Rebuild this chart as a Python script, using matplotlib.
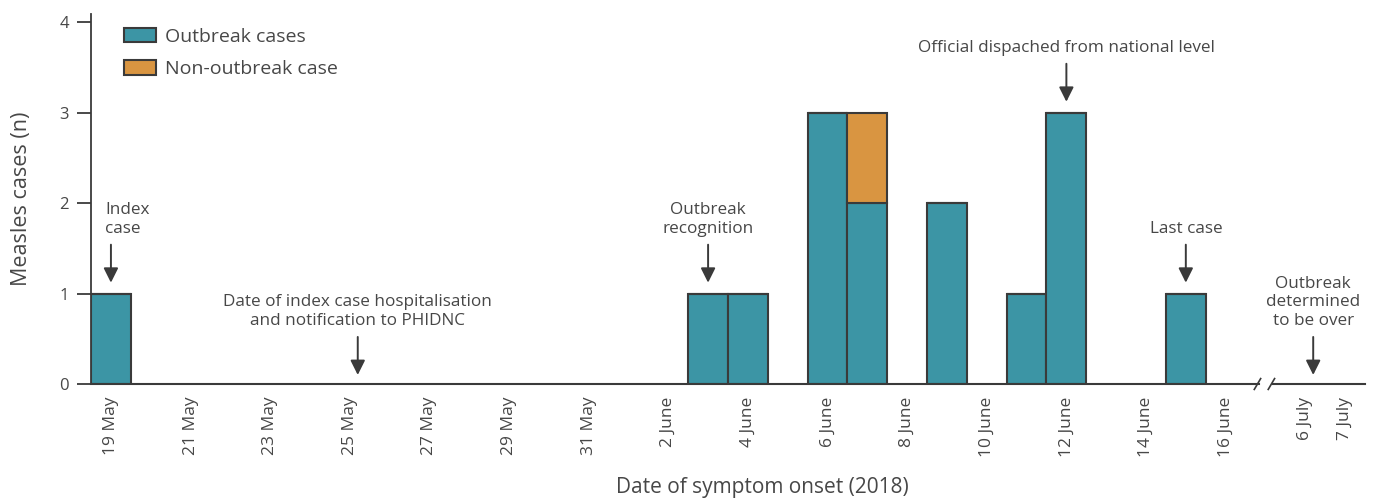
import matplotlib
matplotlib.use("Agg")
import matplotlib.pyplot as plt
import pandas as pd

plt.rcParams['font.family'] = ['Open Sans', 'DejaVu Sans']

# ---- data ----
bar_dates = ['2018-05-19', '2018-06-03', '2018-06-04', '2018-06-06', '2018-06-07',
             '2018-06-09', '2018-06-11', '2018-06-12', '2018-06-15']
outbreak_cases = [1, 1, 1, 3, 2, 2, 1, 3, 1]
non_outbreak_cases = [0, 0, 0, 0, 1, 0, 0, 0, 0]

tick_dates = ['2018-05-19', '2018-05-21', '2018-05-23', '2018-05-25', '2018-05-27',
              '2018-05-29', '2018-05-31', '2018-06-02', '2018-06-04', '2018-06-06',
              '2018-06-08', '2018-06-10', '2018-06-12', '2018-06-14', '2018-06-16',
              '2018-07-06', '2018-07-07']
tick_labels = ['19 May', '21 May', '23 May', '25 May', '27 May', '29 May', '31 May',
               '2 June', '4 June', '6 June', '8 June', '10 June', '12 June', '14 June',
               '16 June', '6 July', '7 July']

events = [
    ('Index\ncase', '2018-05-19', 1),
    ('Date of index case hospitalisation\nand notification to PHIDNC', '2018-05-25', 0),
    ('Outbreak\nrecognition', '2018-06-03', 1),
    ('Official dispached from national level', '2018-06-12', 3),
    ('Last case', '2018-06-15', 1),
    ('Outbreak\ndetermined\nto be over', '2018-07-06', 0),
]

start = pd.Timestamp('2018-05-19')
july_start = pd.Timestamp('2018-07-06')


def xpos(d):
    d = pd.Timestamp(d)
    if d >= july_start:
        return 30 + (d - july_start).days  # compressed axis after break
    return (d - start).days


teal = '#3c95a5'
orange = '#d99541'
edge = '#3a3a3a'
txt = '#474747'

fig = plt.figure(figsize=(13.75, 5), dpi=100)
ax = fig.add_axes([0.0662, 0.232, 0.9265, 0.74])

xs = [xpos(d) for d in bar_dates]
ax.bar(xs, outbreak_cases, width=1.0, color=teal, edgecolor=edge, linewidth=1.5,
       label='Outbreak cases', zorder=3)
ax.bar(xs, non_outbreak_cases, width=1.0, bottom=outbreak_cases, color=orange,
       edgecolor=edge, linewidth=1.5, label='Non-outbreak case', zorder=3)

ax.set_xlim(-0.5, 31.5)
ax.set_ylim(0, 4.09)

ax.spines['top'].set_visible(False)
ax.spines['right'].set_visible(False)
ax.spines['bottom'].set_visible(False)
ax.spines['left'].set_color(edge)
ax.spines['left'].set_linewidth(1.3)

# broken x axis line
ax.plot([-0.5, 28.85], [0, 0], color=edge, lw=1.5, clip_on=False, zorder=4)
ax.plot([29.2, 31.5], [0, 0], color=edge, lw=1.5, clip_on=False, zorder=4)
for bx in (28.8, 29.15):
    ax.plot([bx - 0.08, bx + 0.08], [-0.06, 0.06], color=edge, lw=1.2, clip_on=False, zorder=4)

ax.set_yticks([0, 1, 2, 3, 4])
ax.set_yticklabels(['0', '1', '2', '3', '4'])
ax.tick_params(axis='y', direction='out', length=10, width=1.3, color=edge,
               labelsize=12, labelcolor=txt, pad=6)

ax.set_xticks([xpos(d) for d in tick_dates])
ax.set_xticklabels(tick_labels, rotation=90, va='top', ha='center')
ax.tick_params(axis='x', length=0, labelsize=12.5, labelcolor=txt, pad=9)

ax.set_ylabel('Measles cases (n)', fontsize=15.5, color=txt)
ax.yaxis.set_label_coords(-0.046, 0.5)
ax.set_xlabel('Date of symptom onset (2018)', fontsize=15, color=txt)
ax.xaxis.set_label_coords(0.527, -0.252)

# annotations
arrow_len = 0.42
gap = 0.12
for label, d, yval in events:
    x = xpos(d)
    if label.startswith('Date'):
        x += 0.2
    if label.startswith('Outbreak\ndet'):
        x += 0.2
    tip = yval + gap if yval > 0 else 0.1
    tail = tip + arrow_len
    ax.annotate('', xy=(x, tip), xytext=(x, tail),
                arrowprops=dict(arrowstyle='-|>', color=edge, lw=1.4,
                                mutation_scale=22, shrinkA=0, shrinkB=0), zorder=5)
    ha = 'center'
    tx = x
    if label.startswith('Index'):
        ha = 'left'
        tx = x - 0.15
    ax.text(tx, tail + 0.09, label, ha=ha, va='bottom', fontsize=12.3, color=txt,
            linespacing=1.2, multialignment='center' if ha == 'center' else 'left')

leg = ax.legend(loc='upper left', bbox_to_anchor=(0.0125, 1.01), frameon=False,
                fontsize=14, labelcolor=txt, handlelength=1.6, handleheight=0.75,
                handletextpad=0.5, labelspacing=0.75)

fig.savefig('out.png', dpi=100)
